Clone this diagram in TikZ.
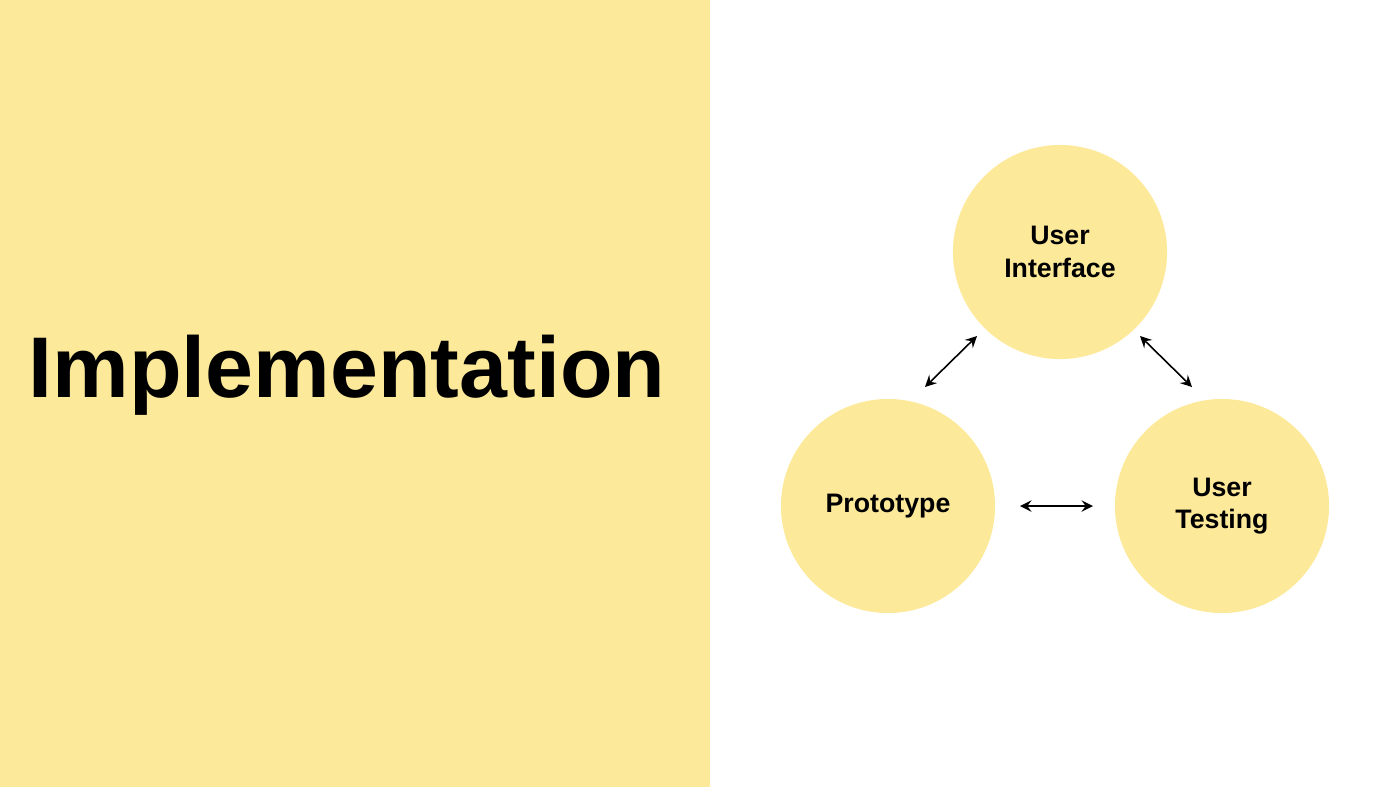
\documentclass[tikz,border=0pt]{standalone}
\usepackage{fontspec}
\setmainfont{Liberation Sans}
\definecolor{sun}{HTML}{FDE99A}
\begin{document}
\begin{tikzpicture}[x=0.01cm,y=-0.01cm,
  bub/.style={circle,fill=sun,minimum size=2.14cm,inner sep=0pt,align=center,font=\fontsize{7.6}{9.2}\selectfont\bfseries},
  link/.style={<->,>=stealth,line width=0.45pt}]
\useasboundingbox (0,0) rectangle (1400,787);
\fill[sun] (0,0) rectangle (710,787);
\node[font=\fontsize{24.5}{28}\selectfont\bfseries] (title) at (347,375) {Implementation};
\node[bub] (ui) at (1060,252) {User\\Interface};
\node[bub] (pr) at (888,506) {Prototype};
\node[bub] (ut) at (1222,506) {User\\Testing};
\coordinate (a1) at (925,387); \coordinate (a2) at (977,336);
\coordinate (b1) at (1140,336); \coordinate (b2) at (1192,387);
\coordinate (c1) at (1020,506); \coordinate (c2) at (1093,506);
\draw[link] (a1) -- (a2);
\draw[link] (b1) -- (b2);
\draw[link] (c1) -- (c2);
\end{tikzpicture}
\end{document}
